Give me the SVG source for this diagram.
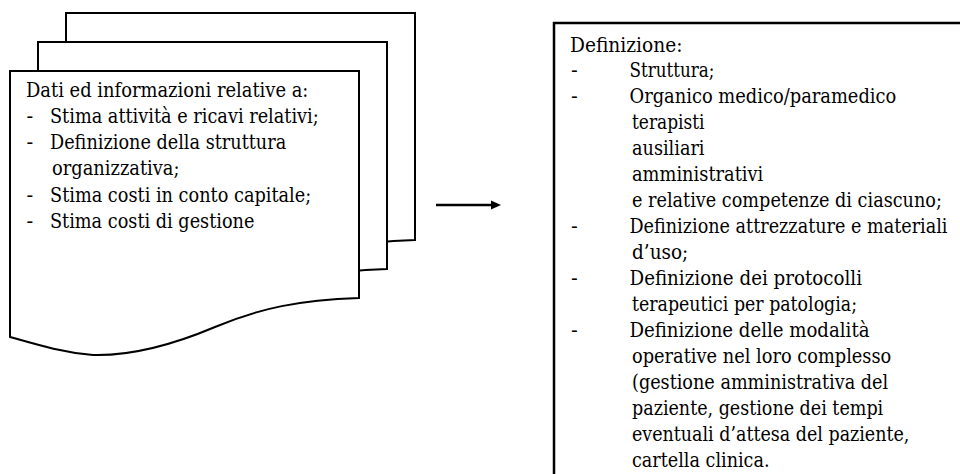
<svg xmlns="http://www.w3.org/2000/svg" width="960" height="474" viewBox="0 0 960 474">
<defs>
<style>
.doc{fill:#fff;stroke:#000;stroke-width:2;stroke-linejoin:miter}
.box{fill:#fff;stroke:#000;stroke-width:2.5}
.t{font-family:"DejaVu Serif","Liberation Serif",serif;font-size:20px;fill:#000}
</style>
<path id="docshape" d="M10,71 H359 V298 C300,300 260,308 215,327 C170,346 130,356 93,355 C60,352 35,344 10,337 Z"/>
</defs>
<rect width="960" height="474" fill="#fff"/>
<g id="input-docs" class="t">
<use href="#docshape" class="doc" transform="translate(56,-58)"/>
<use href="#docshape" class="doc" transform="translate(28,-29)"/>
<use href="#docshape" class="doc"/>
<text x="26" y="96.5" textLength="282.4" lengthAdjust="spacingAndGlyphs">Dati ed informazioni relative a:</text>
<text x="26.5" y="122.8">-</text><text x="50" y="122.8" textLength="268.7" lengthAdjust="spacingAndGlyphs">Stima attività e ricavi relativi;</text>
<text x="26.5" y="149.1">-</text><text x="50" y="149.1" textLength="236.2" lengthAdjust="spacingAndGlyphs">Definizione della struttura</text>
<text x="52" y="175.4" textLength="127.5" lengthAdjust="spacingAndGlyphs">organizzativa;</text>
<text x="26.5" y="201.7">-</text><text x="50" y="201.7" textLength="261.2" lengthAdjust="spacingAndGlyphs">Stima costi in conto capitale;</text>
<text x="26.5" y="228">-</text><text x="50" y="228" textLength="204.4" lengthAdjust="spacingAndGlyphs">Stima costi di gestione</text>
</g>
<g id="connectors">
<line x1="436" y1="205" x2="492" y2="205" stroke="#000" stroke-width="2.3"/>
<polygon points="491,200.5 501,205 491,209.5" fill="#000"/>
</g>
<g id="definizione" class="t">
<rect class="box" x="554" y="23" width="420" height="470"/>
<text x="570" y="51.5" textLength="112.5" lengthAdjust="spacingAndGlyphs">Definizione:</text>
<text x="571" y="77.45">-</text><text x="629.5" y="77.45" textLength="85" lengthAdjust="spacingAndGlyphs">Struttura;</text>
<text x="571" y="103.4">-</text><text x="629.5" y="103.4" textLength="266.8" lengthAdjust="spacingAndGlyphs">Organico medico/paramedico</text>
<text x="632" y="129.35" textLength="72.5" lengthAdjust="spacingAndGlyphs">terapisti</text>
<text x="632" y="155.3" textLength="72.5" lengthAdjust="spacingAndGlyphs">ausiliari</text>
<text x="632" y="181.25" textLength="131.3" lengthAdjust="spacingAndGlyphs">amministrativi</text>
<text x="632" y="207.2" textLength="309.9" lengthAdjust="spacingAndGlyphs">e relative competenze di ciascuno;</text>
<text x="571" y="233.15">-</text><text x="629.5" y="233.15" textLength="318" lengthAdjust="spacingAndGlyphs">Definizione attrezzature e materiali</text>
<text x="632" y="259.1" textLength="56.3" lengthAdjust="spacingAndGlyphs">d’uso;</text>
<text x="571" y="285.05">-</text><text x="629.5" y="285.05" textLength="232.5" lengthAdjust="spacingAndGlyphs">Definizione dei protocolli</text>
<text x="632" y="311" textLength="225" lengthAdjust="spacingAndGlyphs">terapeutici per patologia;</text>
<text x="571" y="336.95">-</text><text x="629.5" y="336.95" textLength="240" lengthAdjust="spacingAndGlyphs">Definizione delle modalità</text>
<text x="632" y="362.9" textLength="259.3" lengthAdjust="spacingAndGlyphs">operative nel loro complesso</text>
<text x="632" y="388.85" textLength="256.2" lengthAdjust="spacingAndGlyphs">(gestione amministrativa del</text>
<text x="632" y="414.8" textLength="251.2" lengthAdjust="spacingAndGlyphs">paziente, gestione dei tempi</text>
<text x="632" y="440.75" textLength="277.4" lengthAdjust="spacingAndGlyphs">eventuali d’attesa del paziente,</text>
<text x="632" y="466.7" textLength="137.5" lengthAdjust="spacingAndGlyphs">cartella clinica.</text>
</g>
</svg>
